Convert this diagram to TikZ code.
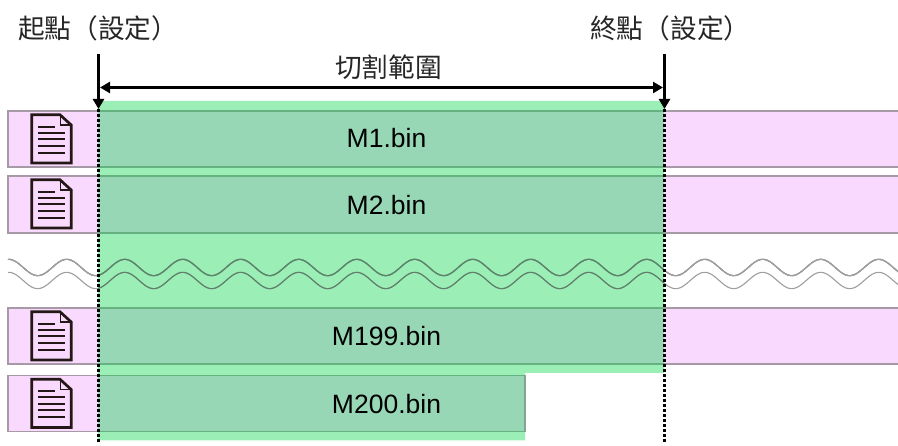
\documentclass[tikz,border=0pt]{standalone}
\usepackage{fontspec}
\setmainfont{Liberation Sans}
\newfontfamily\cjkfont{Noto Sans CJK TC}
\usetikzlibrary{arrows.meta}
\definecolor{barfill}{RGB}{249,218,254}
\definecolor{barline}{RGB}{166,154,166}
\definecolor{cutgreen}{RGB}{5,212,72}
\definecolor{icondark}{RGB}{35,24,21}
\definecolor{wavedark}{RGB}{100,125,108}
\tikzset{>={Triangle[length=10pt,width=11pt]}}
\tikzset{
    filebar/.style={draw=barline, fill=barfill, line width=1.2pt},
    wave/.style={draw=black!38, line width=1.1pt},
    barlabel/.style={font=\fontsize{26.5}{26.5}\selectfont, inner sep=0pt},
    cjklabel/.style={font=\cjkfont\fontsize{26.7}{26.7}\selectfont, inner sep=0pt, text=black!85},
    marker/.style={line width=2.4pt},
    cutline/.style={line width=2.2pt, dash pattern=on 2.7pt off 2.3pt},
}
% one document icon, #1 = top edge
\newcommand{\fileicon}[1]{
    \draw[icondark, line width=2.7pt, line join=miter](31.7, #1+3.8)--(60, #1+3.8)--(71.2, #1+14)--(71.2, #1+52)--(31.7, #1+52)--cycle;
    \draw[icondark, line width=1.2pt](60.5, #1+3.8)--(60.5, #1+14)--(71.2, #1+14);
    \draw[icondark, line width=2pt](38, #1+16)--(55, #1+16);
    \foreach \k in {22, 28.5, 35, 42}
        \draw[icondark, line width=2pt](38, #1+\k)--(65, #1+\k);
}
\begin{document}
\begin{tikzpicture}[x=1pt, y=-1pt]
    \useasboundingbox(0, 0)rectangle(898, 446);
    % bars
    \foreach \bartop/\barbot in {111/167, 176/233, 308/364}{
        \fill[barfill](8, \bartop)rectangle(905, \barbot);
        \draw[barline, line width=1.2pt](905, \bartop)--(8, \bartop)--(8, \barbot)--(905, \barbot);
    }
    \draw[filebar](8, 375.5)rectangle(525, 431.5);
    % icons
    \foreach \bartop in {111, 176, 308, 375.5}
        \fileicon{\bartop}
    % broken part
    \draw[wave]plot[domain=8:905, samples=300, smooth](\x, {267.5-8.2*cos(360/58*(\x-66.7))});
    \draw[wave]plot[domain=8:905, samples=300, smooth](\x, {280.5-8.2*cos(360/58*(\x-66.7))});
    % selected range
    \fill[cutgreen, opacity=.4](98, 101)--(664, 101)--(664, 373)--(525, 373)--(525, 440.5)--(98, 440.5)--cycle;
    \begin{scope}
        \clip(98, 240)rectangle(664, 300);
        \draw[wave, draw=wavedark]plot[domain=90:672, samples=200, smooth](\x, {267.5-8.2*cos(360/58*(\x-66.7))});
        \draw[wave, draw=wavedark]plot[domain=90:672, samples=200, smooth](\x, {280.5-8.2*cos(360/58*(\x-66.7))});
    \end{scope}
    % labels
    \node[barlabel](m1) at(386.5, 138){M1.bin};
    \node[barlabel](m2) at(386.5, 205){M2.bin};
    \node[barlabel](m199) at(386.5, 336){M199.bin};
    \node[barlabel](m200) at(386.5, 404){M200.bin};
    \node[cjklabel, anchor=west](startlabel) at(18, 28){起點（設定）};
    \node[cjklabel, anchor=west](endlabel) at(590, 28){終點（設定）};
    % markers
    \coordinate(starttop) at(98.5, 54);
    \coordinate(startend) at(98.5, 109);
    \coordinate(startcut) at(98.5, 443);
    \coordinate(endtop) at(664.5, 54);
    \coordinate(endend) at(664.5, 109);
    \coordinate(endcut) at(664.5, 443);
    \draw[cutline](startend)--(startcut);
    \draw[cutline](endend)--(endcut);
    \draw[->, marker](starttop)--(startend);
    \draw[->, marker](endtop)--(endend);
    \coordinate(spanleft) at(100, 87.5);
    \coordinate(spanright) at(663, 87.5);
    \draw[<->, marker](spanleft)--(spanright);
    \node[cjklabel](spanlabel) at(388.5, 67){切割範圍};
\end{tikzpicture}
\end{document}
